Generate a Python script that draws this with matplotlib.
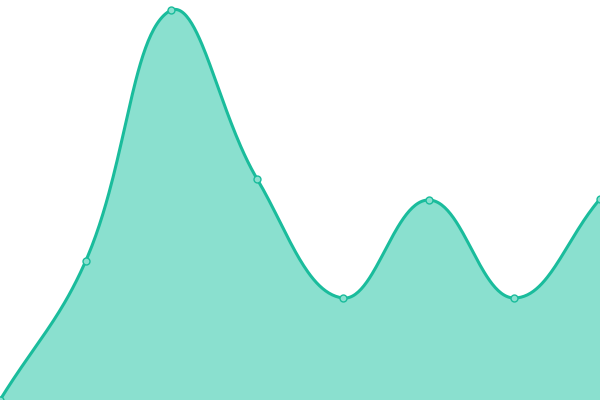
import numpy as np
import matplotlib
matplotlib.use("Agg")
import matplotlib.pyplot as plt

labels = ["1", "2", "3", "4", "5", "6", "7", "8"]
values = [0, 139, 390, 221, 102, 200, 102, 201]

line_color = "#1abc9c"
fill_color = "#8ae0cf"
tension = 0.4

W, H = 600, 400
ymax = 400

fig = plt.figure(figsize=(6, 4), dpi=100)
ax = fig.add_axes([0, 0, 1, 1])
ax.set_xlim(0, len(values) - 1)
ax.set_ylim(0, ymax)
ax.axis("off")

# pixel positions through the axes transform
xs = np.arange(len(values))
pts = ax.transData.transform(np.column_stack([xs, values]))
n = len(pts)

# spline control points, chart.js style
ctrl_prev = np.zeros_like(pts)
ctrl_next = np.zeros_like(pts)
for i in range(n):
    prev = pts[i - 1] if i > 0 else pts[i]
    cur = pts[i]
    nxt = pts[i + 1] if i < n - 1 else pts[i]
    d01 = np.hypot(*(cur - prev))
    d12 = np.hypot(*(nxt - cur))
    s = d01 + d12
    s01 = d01 / s if s else 0
    s12 = d12 / s if s else 0
    ctrl_prev[i] = cur - tension * s01 * (nxt - prev)
    ctrl_next[i] = cur + tension * s12 * (nxt - prev)

x0, y0 = ax.transData.transform((0, 0))
x1, y1 = ax.transData.transform((len(values) - 1, ymax))
ctrl_prev[:, 0] = np.clip(ctrl_prev[:, 0], x0, x1)
ctrl_prev[:, 1] = np.clip(ctrl_prev[:, 1], y0, y1)
ctrl_next[:, 0] = np.clip(ctrl_next[:, 0], x0, x1)
ctrl_next[:, 1] = np.clip(ctrl_next[:, 1], y0, y1)

t = np.linspace(0, 1, 60)[:, None]
curve = [pts[0:1]]
for i in range(n - 1):
    p0, p1, p2, p3 = pts[i], ctrl_next[i], ctrl_prev[i + 1], pts[i + 1]
    seg = ((1 - t) ** 3) * p0 + 3 * ((1 - t) ** 2) * t * p1 + 3 * (1 - t) * t ** 2 * p2 + t ** 3 * p3
    curve.append(seg[1:])
curve = np.vstack(curve)
curve_data = ax.transData.inverted().transform(curve)

ax.fill_between(curve_data[:, 0], curve_data[:, 1], 0, color=fill_color, linewidth=0)
ax.plot(curve_data[:, 0], curve_data[:, 1], color=line_color, linewidth=2.2,
        solid_capstyle="round")
ax.plot(xs, values, "o", markersize=5, markerfacecolor=fill_color,
        markeredgecolor=line_color, markeredgewidth=1, clip_on=False)

fig.savefig("out.png", dpi=100)
